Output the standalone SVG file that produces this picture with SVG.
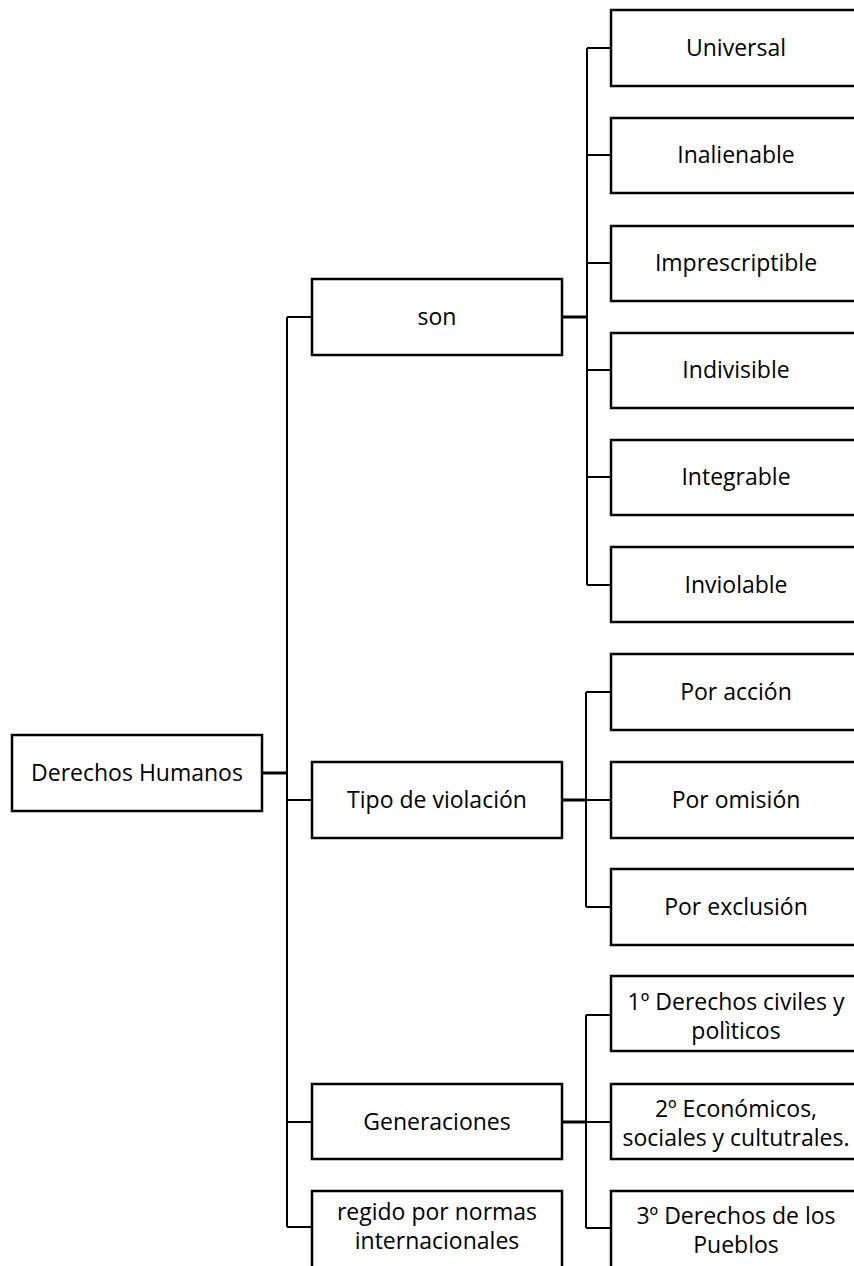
<svg xmlns="http://www.w3.org/2000/svg" width="854" height="1266" viewBox="0 0 854 1266">
<style>
.box{fill:#fff;stroke:#000;stroke-width:2.5}
.t{font-family:"Open Sans","Liberation Sans",sans-serif;font-size:23px;fill:#000;text-anchor:middle}
.c{fill:none;stroke:#000;stroke-width:2}
.s{fill:none;stroke:#000;stroke-width:3}
</style>
<rect width="854" height="1266" fill="#fff"/>
<g id="connectors">
<path class="c" d="M287 317V1227M287 317H312M287 800H312M287 1122H312M287 1227H312"/>
<path class="s" d="M262 773H287"/>
<path class="c" d="M587 48V585M587 48H611M587 155H611M587 263H611M587 370H611M587 477H611M587 585H611"/>
<path class="s" d="M562 317H587"/>
<path class="c" d="M586 692V907M586 692H611M586 800H611M586 907H611"/>
<path class="s" d="M562 800H586"/>
<path class="c" d="M586 1015V1228M586 1015H611M586 1122H611M586 1228H611"/>
<path class="s" d="M562 1122H586"/>
</g>
<g id="n-root"><rect class="box" x="12" y="735" width="250" height="76"/><text class="t" x="137" y="781">Derechos Humanos</text></g>
<g id="n-son"><rect class="box" x="312" y="279" width="250" height="76"/><text class="t" x="437" y="325">son</text></g>
<g id="n-tipo"><rect class="box" x="312" y="762" width="250" height="76"/><text class="t" x="437" y="808">Tipo de violación</text></g>
<g id="n-gen"><rect class="box" x="312" y="1084" width="250" height="75"/><text class="t" x="437" y="1130">Generaciones</text></g>
<g id="n-regido"><rect class="box" x="312" y="1191" width="250" height="90"/><text class="t" x="437" y="1220">regido por normas</text><text class="t" x="437" y="1249">internacionales</text></g>
<g id="n-universal"><rect class="box" x="611" y="10" width="250" height="76"/><text class="t" x="736" y="56">Universal</text></g>
<g id="n-inalienable"><rect class="box" x="611" y="118" width="250" height="75"/><text class="t" x="736" y="163">Inalienable</text></g>
<g id="n-imprescriptible"><rect class="box" x="611" y="226" width="250" height="75"/><text class="t" x="736" y="271">Imprescriptible</text></g>
<g id="n-indivisible"><rect class="box" x="611" y="333" width="250" height="75"/><text class="t" x="736" y="378">Indivisible</text></g>
<g id="n-integrable"><rect class="box" x="611" y="440" width="250" height="75"/><text class="t" x="736" y="485">Integrable</text></g>
<g id="n-inviolable"><rect class="box" x="611" y="547" width="250" height="75"/><text class="t" x="736" y="593">Inviolable</text></g>
<g id="n-accion"><rect class="box" x="611" y="654" width="250" height="76"/><text class="t" x="736" y="700">Por acción</text></g>
<g id="n-omision"><rect class="box" x="611" y="762" width="250" height="76"/><text class="t" x="736" y="808">Por omisión</text></g>
<g id="n-exclusion"><rect class="box" x="611" y="869" width="250" height="76"/><text class="t" x="736" y="915">Por exclusión</text></g>
<g id="n-gen1"><rect class="box" x="611" y="976" width="250" height="75"/><text class="t" x="736" y="1010">1º Derechos civiles y</text><text class="t" x="736" y="1039">polìticos</text></g>
<g id="n-gen2"><rect class="box" x="611" y="1084" width="250" height="75"/><text class="t" x="736" y="1117">2º Económicos,</text><text class="t" x="736" y="1146">sociales y cultutrales.</text></g>
<g id="n-gen3"><rect class="box" x="611" y="1191" width="250" height="90"/><text class="t" x="736" y="1224">3º Derechos de los</text><text class="t" x="736" y="1253">Pueblos</text></g>
</svg>
